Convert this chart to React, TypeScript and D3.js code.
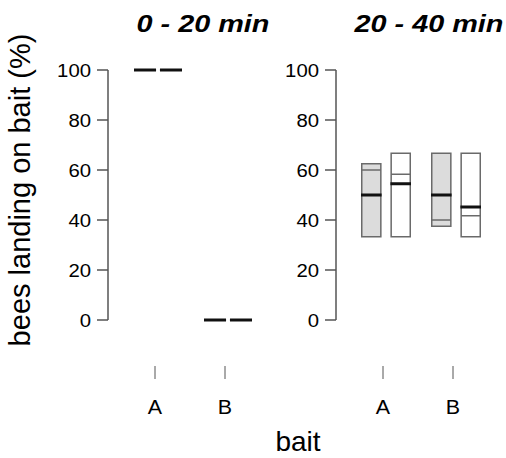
import React, { useEffect, useRef } from "react";
import * as d3 from "d3";

// two time windows, two baits, two boxes per bait (A-1, A-2, B-1, B-2)
const panelTitles = ["0 - 20 min", "20 - 40 min"];
const baits = ["A", "B"];
const yTicks = [0, 20, 40, 60, 80, 100];

const boxLow = [[100, 100, 0, 0], [33.3, 33.3, 37.5, 33.3]];
const boxQ1 = [[100, 100, 0, 0], [33.3, 33.3, 40, 41.7]];
const boxMedian = [[100, 100, 0, 0], [50, 54.5, 50, 45.2]];
const boxQ3 = [[100, 100, 0, 0], [60, 58.3, 66.7, 66.7]];
const boxHigh = [[100, 100, 0, 0], [62.5, 66.7, 66.7, 66.7]];
const boxFill = ["#dcdcdc", "#ffffff"];

const FONT = "'Liberation Sans', Arial, sans-serif";

function App() {
  const ref = useRef<SVGSVGElement>(null);

  useEffect(() => {
    const svg = d3.select(ref.current);
    svg.selectAll("*").remove();

    const y = d3.scaleLinear().domain([0, 100]).range([320, 70]);

    const panels = [
      { axisX: 108, centers: [158, 228], inner: [-24, 24], pad: 0.15, title: 203 },
      { axisX: 336, centers: [386, 456], inner: [-25, 25], pad: 0.3, title: 429 },
    ];

    panels.forEach((p, pi) => {
      const g = svg.append("g");
      const x = d3.scaleOrdinal<string, number>().domain(baits).range(p.centers);
      const inner = d3.scaleBand<number>().domain([0, 1]).range(p.inner as [number, number]).paddingInner(p.pad);

      // title
      g.append("text")
        .attr("transform", `translate(${p.title},32) scale(1.2,1)`)
        .attr("text-anchor", "middle")
        .style("font-family", FONT)
        .style("font-size", "24px")
        .style("font-weight", "bold")
        .style("font-style", "italic")
        .text(panelTitles[pi]);

      // y axis
      g.append("line")
        .attr("x1", p.axisX).attr("x2", p.axisX)
        .attr("y1", y(0)).attr("y2", y(100))
        .attr("stroke", "#555").attr("stroke-width", 1.5);
      const ticks = g.selectAll(".yt").data(yTicks).enter().append("g");
      ticks.append("line")
        .attr("x1", p.axisX - 11).attr("x2", p.axisX)
        .attr("y1", d => y(d)).attr("y2", d => y(d))
        .attr("stroke", "#555").attr("stroke-width", 1.5);
      ticks.append("text")
        .attr("transform", d => `translate(${p.axisX - 17},${y(d) + 6.5}) scale(1.13,1)`)
        .attr("text-anchor", "end")
        .style("font-family", FONT)
        .style("font-size", "18px")
        .text(d => d);

      // x ticks and labels
      const xt = g.selectAll(".xt").data(baits).enter().append("g");
      xt.append("line")
        .attr("x1", d => x(d) - 3).attr("x2", d => x(d) - 3)
        .attr("y1", 366).attr("y2", 379)
        .attr("stroke", "#555").attr("stroke-width", 1);
      xt.append("text")
        .attr("transform", d => `translate(${x(d) - 3},414) scale(1.1,1)`)
        .attr("text-anchor", "middle")
        .style("font-family", FONT)
        .style("font-size", "19.5px")
        .text(d => d);

      // boxes
      const boxes = d3.range(4).map(i => ({
        bait: baits[Math.floor(i / 2)],
        k: i % 2,
        lo: boxLow[pi][i],
        q1: boxQ1[pi][i],
        med: boxMedian[pi][i],
        q3: boxQ3[pi][i],
        hi: boxHigh[pi][i],
      }));
      const bw = inner.bandwidth();
      const bg = g.selectAll(".box").data(boxes).enter().append("g")
        .attr("transform", d => `translate(${x(d.bait) + (inner(d.k) as number)},0)`);
      bg.filter(d => d.hi > d.lo).append("rect")
        .attr("x", 0.75).attr("width", bw - 1.5)
        .attr("y", d => y(d.hi)).attr("height", d => y(d.lo) - y(d.hi))
        .attr("fill", d => boxFill[d.k])
        .attr("stroke", "#6a6a6a").attr("stroke-width", 1.5);
      bg.filter(d => d.hi > d.lo).selectAll(".q")
        .data(d => [d.q1, d.q3].filter(v => v > d.lo && v < d.hi))
        .enter().append("line")
        .attr("x1", 0.75).attr("x2", bw - 0.75)
        .attr("y1", v => y(v)).attr("y2", v => y(v))
        .attr("stroke", "#6a6a6a").attr("stroke-width", 1.5);
      bg.append("line")
        .attr("x1", 0).attr("x2", bw)
        .attr("y1", d => y(d.med)).attr("y2", d => y(d.med))
        .attr("stroke", "#111").attr("stroke-width", 3);
    });

    // axis titles
    svg.append("text")
      .attr("transform", `translate(30,190) rotate(-90)`)
      .attr("text-anchor", "middle")
      .style("font-family", FONT)
      .style("font-size", "29px")
      .text("bees landing on bait (%)");
    svg.append("text")
      .attr("x", 298).attr("y", 451)
      .attr("text-anchor", "middle")
      .style("font-family", FONT)
      .style("font-size", "28px")
      .text("bait");
  }, []);

  return (
    <svg ref={ref} width={506} height={458}
      style={{ position: "absolute", left: 0, top: 0, background: "#fff" }} />
  );
}

export default App;
